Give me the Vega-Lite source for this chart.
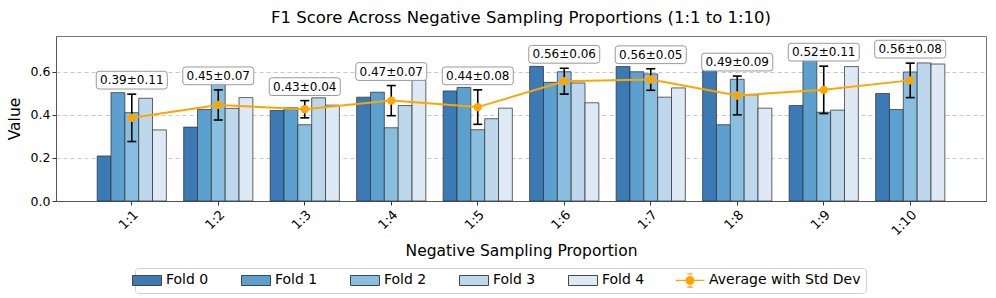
{
  "$schema": "https://vega.github.io/schema/vega-lite/v6.json",
  "autosize": "none",
  "width": 930,
  "height": 165,
  "padding": {"left": 56, "top": 36, "right": 10, "bottom": 97},
  "title": {"text": "F1 Score Across Negative Sampling Proportions (1:1 to 1:10)", "fontSize": 16.5, "fontWeight": "normal", "font": "DejaVu Sans", "color": "#000", "offset": 10},
  "config": {
    "font": "DejaVu Sans",
    "view": {"stroke": "#777", "strokeWidth": 1},
    "axis": {"labelFont": "DejaVu Sans", "titleFont": "DejaVu Sans", "labelColor": "#000", "titleColor": "#000", "domainColor": "#555", "tickColor": "#333"}
  },
  "datasets": {
    "folds": [
      {"prop": "1:1", "fold": "Fold 0", "value": 0.209},
      {"prop": "1:1", "fold": "Fold 1", "value": 0.503},
      {"prop": "1:1", "fold": "Fold 2", "value": 0.41},
      {"prop": "1:1", "fold": "Fold 3", "value": 0.477},
      {"prop": "1:1", "fold": "Fold 4", "value": 0.33},
      {"prop": "1:2", "fold": "Fold 0", "value": 0.343},
      {"prop": "1:2", "fold": "Fold 1", "value": 0.425},
      {"prop": "1:2", "fold": "Fold 2", "value": 0.55},
      {"prop": "1:2", "fold": "Fold 3", "value": 0.43},
      {"prop": "1:2", "fold": "Fold 4", "value": 0.48},
      {"prop": "1:3", "fold": "Fold 0", "value": 0.42},
      {"prop": "1:3", "fold": "Fold 1", "value": 0.433},
      {"prop": "1:3", "fold": "Fold 2", "value": 0.354},
      {"prop": "1:3", "fold": "Fold 3", "value": 0.479},
      {"prop": "1:3", "fold": "Fold 4", "value": 0.445},
      {"prop": "1:4", "fold": "Fold 0", "value": 0.482},
      {"prop": "1:4", "fold": "Fold 1", "value": 0.505},
      {"prop": "1:4", "fold": "Fold 2", "value": 0.34},
      {"prop": "1:4", "fold": "Fold 3", "value": 0.443},
      {"prop": "1:4", "fold": "Fold 4", "value": 0.56},
      {"prop": "1:5", "fold": "Fold 0", "value": 0.511},
      {"prop": "1:5", "fold": "Fold 1", "value": 0.527},
      {"prop": "1:5", "fold": "Fold 2", "value": 0.331},
      {"prop": "1:5", "fold": "Fold 3", "value": 0.382},
      {"prop": "1:5", "fold": "Fold 4", "value": 0.431},
      {"prop": "1:6", "fold": "Fold 0", "value": 0.625},
      {"prop": "1:6", "fold": "Fold 1", "value": 0.551},
      {"prop": "1:6", "fold": "Fold 2", "value": 0.6},
      {"prop": "1:6", "fold": "Fold 3", "value": 0.548},
      {"prop": "1:6", "fold": "Fold 4", "value": 0.456},
      {"prop": "1:7", "fold": "Fold 0", "value": 0.624},
      {"prop": "1:7", "fold": "Fold 1", "value": 0.6},
      {"prop": "1:7", "fold": "Fold 2", "value": 0.59},
      {"prop": "1:7", "fold": "Fold 3", "value": 0.482},
      {"prop": "1:7", "fold": "Fold 4", "value": 0.525},
      {"prop": "1:8", "fold": "Fold 0", "value": 0.607},
      {"prop": "1:8", "fold": "Fold 1", "value": 0.354},
      {"prop": "1:8", "fold": "Fold 2", "value": 0.565},
      {"prop": "1:8", "fold": "Fold 3", "value": 0.493},
      {"prop": "1:8", "fold": "Fold 4", "value": 0.431},
      {"prop": "1:9", "fold": "Fold 0", "value": 0.443},
      {"prop": "1:9", "fold": "Fold 1", "value": 0.68},
      {"prop": "1:9", "fold": "Fold 2", "value": 0.412},
      {"prop": "1:9", "fold": "Fold 3", "value": 0.422},
      {"prop": "1:9", "fold": "Fold 4", "value": 0.624},
      {"prop": "1:10", "fold": "Fold 0", "value": 0.499},
      {"prop": "1:10", "fold": "Fold 1", "value": 0.425},
      {"prop": "1:10", "fold": "Fold 2", "value": 0.599},
      {"prop": "1:10", "fold": "Fold 3", "value": 0.641},
      {"prop": "1:10", "fold": "Fold 4", "value": 0.636}
    ],
    "avg": [
      {"prop": "1:1", "mean": 0.386, "lo": 0.276, "hi": 0.496, "label": "0.39±0.11"},
      {"prop": "1:2", "mean": 0.446, "lo": 0.376, "hi": 0.516, "label": "0.45±0.07"},
      {"prop": "1:3", "mean": 0.426, "lo": 0.386, "hi": 0.466, "label": "0.43±0.04"},
      {"prop": "1:4", "mean": 0.466, "lo": 0.396, "hi": 0.536, "label": "0.47±0.07"},
      {"prop": "1:5", "mean": 0.436, "lo": 0.356, "hi": 0.516, "label": "0.44±0.08"},
      {"prop": "1:6", "mean": 0.556, "lo": 0.496, "hi": 0.616, "label": "0.56±0.06"},
      {"prop": "1:7", "mean": 0.564, "lo": 0.514, "hi": 0.614, "label": "0.56±0.05"},
      {"prop": "1:8", "mean": 0.49, "lo": 0.4, "hi": 0.58, "label": "0.49±0.09"},
      {"prop": "1:9", "mean": 0.516, "lo": 0.406, "hi": 0.626, "label": "0.52±0.11"},
      {"prop": "1:10", "mean": 0.56, "lo": 0.48, "hi": 0.64, "label": "0.56±0.08"}
    ]
  },
  "layer": [
    {
      "data": {"name": "folds"},
      "mark": {"type": "bar", "stroke": "#333", "strokeOpacity": 0.75, "strokeWidth": 1},
      "encoding": {
        "x": {"field": "prop", "type": "nominal", "sort": null,
          "scale": {"domain": ["1:1","1:2","1:3","1:4","1:5","1:6","1:7","1:8","1:9","1:10"], "paddingInner": 0.2, "paddingOuter": 0.476},
          "axis": {"title": "Negative Sampling Proportion", "titleFontSize": 15.5, "titleFontWeight": "normal", "labelAngle": -45, "labelFontSize": 13, "tickSize": 4, "labelPadding": 3, "titlePadding": 6}},
        "xOffset": {"field": "fold", "type": "nominal", "scale": {"paddingInner": 0, "paddingOuter": 0}},
        "y": {"field": "value", "type": "quantitative",
          "scale": {"domain": [0, 0.766], "nice": false, "zero": true},
          "axis": {"title": "Value", "titleFontSize": 15.5, "titleFontWeight": "normal", "values": [0, 0.2, 0.4, 0.6], "format": ".1f", "labelFontSize": 12.5, "tickSize": 4, "gridDash": [4, 3], "gridColor": "#c8c8c8", "titlePadding": 8}},
        "color": {"field": "fold", "type": "nominal",
          "scale": {"domain": ["Fold 0","Fold 1","Fold 2","Fold 3","Fold 4","Average with Std Dev"], "range": ["#3b7ab5","#5ca0d0","#88bfe0","#bdd7ec","#dde9f5","#FFA500"]},
          "legend": {"title": null, "orient": "none", "legendX": 79, "legendY": 232, "direction": "horizontal", "columns": 6,
            "symbolType": "M-1,-0.345H1V0.345H-1Z", "symbolSize": 841, "symbolStrokeColor": "#444", "symbolStrokeWidth": 1, "symbolOpacity": 1,
            "labelFontSize": 14, "labelOffset": 12, "columnPadding": 30, "padding": 5, "strokeColor": "#d0d0d0", "cornerRadius": 3, "fillColor": "white",
            "encode": {"symbols": {"update": {
              "shape": {"signal": "datum.value === 'Average with Std Dev' ? 'M-1,-0.05H1V0.05H-1Z M0.31,0A0.31,0.31 0 1,1 -0.31,0A0.31,0.31 0 1,1 0.31,0Z M-0.035,-0.5H0.035V0.5H-0.035Z M-0.19,-0.5H0.19V-0.43H-0.19Z M-0.19,0.43H0.19V0.5H-0.19Z' : 'M-1,-0.345H1V0.345H-1Z'"},
              "strokeWidth": {"signal": "datum.value === 'Average with Std Dev' ? 0 : 1"}
            }}}}}
      }
    },
    {
      "data": {"name": "avg"},
      "mark": {"type": "rule", "color": "#000", "strokeWidth": 1.6},
      "encoding": {"x": {"field": "prop", "type": "nominal", "sort": null}, "y": {"field": "lo", "type": "quantitative"}, "y2": {"field": "hi"}}
    },
    {
      "data": {"name": "avg"},
      "mark": {"type": "tick", "color": "#000", "size": 9, "thickness": 1.6, "opacity": 1},
      "encoding": {"x": {"field": "prop", "type": "nominal", "sort": null}, "y": {"field": "lo", "type": "quantitative"}}
    },
    {
      "data": {"name": "avg"},
      "mark": {"type": "tick", "color": "#000", "size": 9, "thickness": 1.6, "opacity": 1},
      "encoding": {"x": {"field": "prop", "type": "nominal", "sort": null}, "y": {"field": "hi", "type": "quantitative"}}
    },
    {
      "data": {"name": "avg"},
      "mark": {"type": "line", "color": "#FFA500", "strokeWidth": 2},
      "encoding": {"x": {"field": "prop", "type": "nominal", "sort": null}, "y": {"field": "mean", "type": "quantitative"}}
    },
    {
      "data": {"name": "avg"},
      "mark": {"type": "point", "shape": "circle", "filled": true, "color": "#FFA500", "size": 70, "opacity": 1},
      "encoding": {"x": {"field": "prop", "type": "nominal", "sort": null}, "y": {"field": "mean", "type": "quantitative"}}
    },
    {
      "data": {"name": "avg"},
      "mark": {"type": "point", "shape": "M-0.92,-0.25H0.92Q1,-0.25 1,-0.17V0.17Q1,0.25 0.92,0.25H-0.92Q-1,0.25 -1,0.17V-0.17Q-1,-0.25 -0.92,-0.25Z", "filled": true, "fill": "white", "fillOpacity": 0.9, "stroke": "#999", "strokeWidth": 1, "size": 5041, "yOffset": -14, "opacity": 1},
      "encoding": {"x": {"field": "prop", "type": "nominal", "sort": null}, "y": {"field": "hi", "type": "quantitative"}}
    },
    {
      "data": {"name": "avg"},
      "mark": {"type": "text", "fontSize": 12, "font": "DejaVu Sans", "color": "#000", "baseline": "middle", "align": "center", "yOffset": -14},
      "encoding": {"x": {"field": "prop", "type": "nominal", "sort": null}, "y": {"field": "hi", "type": "quantitative"}, "text": {"field": "label"}}
    }
  ]
}
